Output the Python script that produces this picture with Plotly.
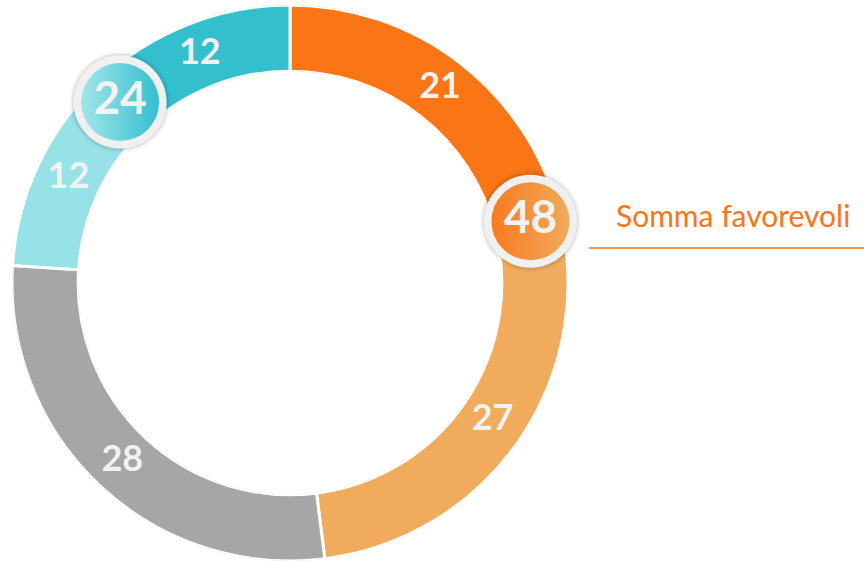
import plotly.graph_objects as go
import numpy as np

values = [21, 27, 28, 12, 12]
colors = ['#F97515', '#F0AB5C', '#A6A6A6', '#97E2E6', '#33BFCE']
# pairs of slices summed into the bubbles (left colour, right colour)
groups = [(0, 1), (3, 4)]
group_colors = [('#F97A1F', '#F0AB5C'), ('#A3E5E9', '#33BFCE')]
callout = 'Somma favorevoli'

total = sum(values)
cum = np.cumsum(values)
starts = cum - np.array(values)
mid_theta = (starts + np.array(values) / 2) / total * 360
widths = np.array(values) / total * 360

fig = go.Figure()

# the ring
fig.add_trace(go.Barpolar(
    theta=mid_theta, r=[1] * len(values), width=widths,
    marker=dict(color=colors, line=dict(color='white', width=3)),
    hoverinfo='skip',
))

# slice labels
fig.add_trace(go.Scatterpolar(
    theta=mid_theta, r=[0.5] * len(values), mode='text',
    text=[str(v) for v in values],
    textfont=dict(family='Lato', size=36, color='#F2F2F2', weight='bold'),
    hoverinfo='skip',
))

# bubbles with the sums
for (a, b), (c1, c2) in zip(groups, group_colors):
    th = [cum[a] / total * 360]
    for size, col in [(101, 'rgba(0,0,0,0.04)'), (97, 'rgba(0,0,0,0.07)'), (93, '#F0F0F0')]:
        fig.add_trace(go.Scatterpolar(
            theta=th, r=[0.55], mode='markers',
            marker=dict(size=size, color=col, line=dict(width=0)),
            hoverinfo='skip',
        ))
    fig.add_trace(go.Scatterpolar(
        theta=th, r=[0.55], mode='markers+text',
        marker=dict(size=78, color=c1, line=dict(width=0),
                    gradient=dict(type='horizontal', color=c2)),
        text=[str(values[a] + values[b])], textposition='middle center',
        textfont=dict(family='Lato', size=46, color='#F2F2F2', weight='bold'),
        hoverinfo='skip',
    ))

fig.update_layout(
    width=864, height=561,
    margin=dict(l=0, r=0, t=0, b=0),
    paper_bgcolor='white',
    showlegend=False,
    polar=dict(
        domain=dict(x=[12 / 864, 568 / 864], y=[0, 556 / 561]),
        hole=0.762,
        bgcolor='rgba(0,0,0,0)',
        radialaxis=dict(range=[0, 1], visible=False),
        angularaxis=dict(rotation=90, direction='clockwise', visible=False),
    ),
    annotations=[dict(xref='paper', yref='paper', x=614 / 864, y=1 - 215 / 561,
                      xanchor='left', yanchor='middle', showarrow=False,
                      text=callout,
                      font=dict(family='Lato', size=30, color='#F97515'))],
    shapes=[dict(type='line', xref='paper', yref='paper',
                 x0=589 / 864, x1=1, y0=1 - 248 / 561, y1=1 - 248 / 561,
                 line=dict(color='#F97515', width=1.5))],
)

fig.write_html("out.html", config=dict(displayModeBar=False),
               post_script="document.body.style.margin='0';")
